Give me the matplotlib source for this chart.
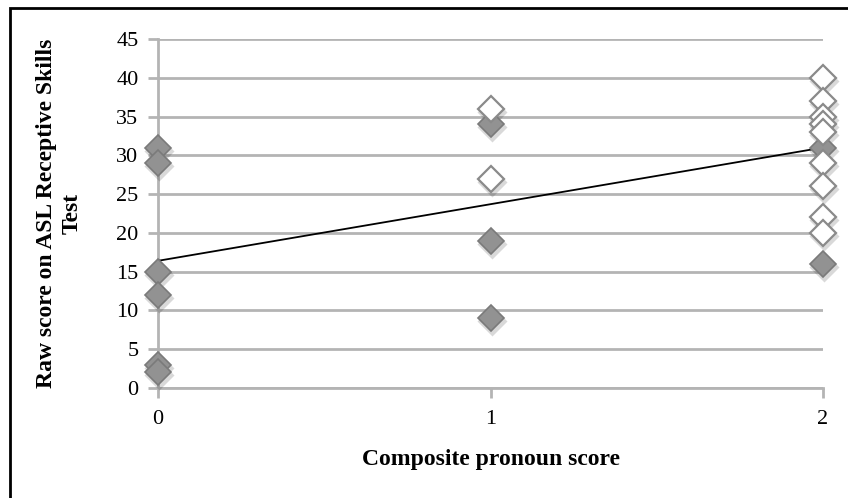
import matplotlib
matplotlib.use('Agg')
import matplotlib.pyplot as plt
import matplotlib.transforms as mtransforms
from matplotlib.patches import Rectangle
import numpy as np

plt.rcParams['font.family'] = ['Liberation Serif', 'DejaVu Serif']

# dados
grupo_cinza_x = [0, 0, 0, 0, 0, 0, 1, 1, 1, 2, 2]
grupo_cinza_y = [31, 29, 15, 12, 3, 2, 34, 19, 9, 31, 16]
grupo_branco_x = [1, 1, 2, 2, 2, 2, 2, 2, 2, 2, 2]
grupo_branco_y = [36, 27, 40, 37, 35, 34, 33, 29, 26, 22, 20]
tendencia_x = [0, 2]
tendencia_y = [16.4, 31.0]
yticks = [0, 5, 10, 15, 20, 25, 30, 35, 40, 45]
xticks = [0, 1, 2]

fig = plt.figure(figsize=(8.48, 4.98), dpi=100)
ax = fig.add_axes([158/848, 110/498, 665/848, 349/498])

cor_grade = '#b4b4b4'
for v in yticks:
    ax.axhline(v, color=cor_grade, lw=2, zorder=1)

ax.plot(tendencia_x, tendencia_y, color='black', lw=1.3, zorder=3)

# sombra dos losangos
sombra = mtransforms.offset_copy(ax.transData, fig=fig, x=1.0, y=-3.0, units='dots')
todos_x = grupo_cinza_x + grupo_branco_x
todos_y = grupo_cinza_y + grupo_branco_y
ax.plot(todos_x, todos_y, 'D', ms=15, color='#000000', alpha=0.15, mec='none',
        transform=sombra, clip_on=False, zorder=4)

ax.plot(grupo_cinza_x, grupo_cinza_y, 'D', ms=13, mfc='#929292', mec='#7a7a7a',
        mew=1.2, clip_on=False, zorder=5)
ax.plot(grupo_branco_x, grupo_branco_y, 'D', ms=13, mfc='white', mec='#8a8a8a',
        mew=1.6, clip_on=False, zorder=6)

ax.set_xlim(0, 2)
ax.set_ylim(0, 45)
ax.set_xticks(xticks)
ax.set_yticks(yticks)
ax.tick_params(axis='both', colors=cor_grade, labelcolor='black', labelsize=16,
               length=7, width=2)
ax.tick_params(axis='x', pad=9)
ax.tick_params(axis='y', pad=7)

for lado in ['top', 'right']:
    ax.spines[lado].set_visible(False)
for lado in ['left', 'bottom']:
    ax.spines[lado].set_color(cor_grade)
    ax.spines[lado].set_linewidth(2)
    ax.spines[lado].set_zorder(2)

ax.set_xlabel('Composite pronoun score', fontsize=17, fontweight='bold', labelpad=14)
ax.set_ylabel('Raw score on ASL Receptive Skills\nTest', fontsize=17,
              fontweight='bold', labelpad=24, linespacing=1.3)

# moldura
fig.patches.append(Rectangle((10/848, -0.1), 1.0, 0.1 + (498-8)/498, transform=fig.transFigure,
                             fill=False, edgecolor='black', lw=2))

fig.savefig('out.png', dpi=100)
